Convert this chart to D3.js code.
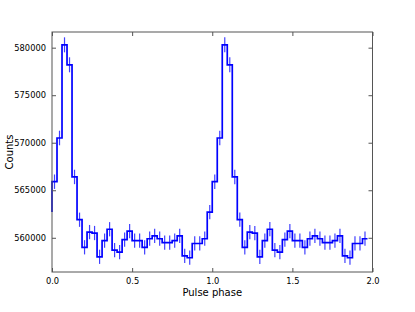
<!DOCTYPE html>
<html><head><meta charset="utf-8">
<script src="https://cdn.jsdelivr.net/npm/d3@7/dist/d3.min.js"></script>
<style>
html,body{margin:0;padding:0;background:#fff;}
svg{display:block;font-family:"DejaVu Sans",sans-serif;}
</style></head>
<body><svg id="chart" width="415" height="312"></svg>
<script>
// One pulse cycle, 32 phase bins (repeated for phase 1-2)
const binCount = 32;
const counts = [565900, 570500, 580300, 578200, 566400, 561900, 559000, 560600,
                560500, 558000, 559700, 560900, 558700, 558500, 559800, 560700,
                559700, 559700, 559000, 559900, 560200, 559900, 559500, 559500,
                559700, 560200, 558100, 557900, 559400, 559400, 559900, 562700];
const errors = [760, 770, 790, 790, 760, 750, 750, 750,
                750, 750, 750, 750, 750, 750, 750, 750,
                750, 750, 750, 750, 750, 750, 750, 750,
                750, 750, 750, 750, 750, 750, 750, 760];
const xTicks = [0, 0.5, 1.0, 1.5, 2.0];
const yTicks = [560000, 565000, 570000, 575000, 580000];
const xLabel = "Pulse phase";
const yLabel = "Counts";

const svg = d3.select("#chart");
const L = 52, R = 372.5, T = 32, B = 272;
const x = d3.scaleLinear().domain([0, 2]).range([L, R]);
const y = d3.scaleLinear().domain([556400, 581650]).range([B, T]);

// two cycles
const nShown = 2 * binCount - 1;
const bins = d3.range(nShown).map(i => ({
  left: i / binCount, right: (i + 1) / binCount,
  c: counts[i % binCount], e: errors[i % binCount]
}));

// step line: start at phase 0 with the previous-cycle value
const pts = [[0, counts[binCount - 1]]].concat(bins.map(b => [b.right, b.c]));
const line = d3.line().x(d => x(d[0])).y(d => y(d[1])).curve(d3.curveStepBefore);

const g = svg.append("g");
g.append("path").datum(pts).attr("d", line)
  .attr("fill", "none").attr("stroke", "#0000ff").attr("stroke-width", 1.7)
  .attr("stroke-linejoin", "miter");

// error bars
g.selectAll("line.err").data(bins).join("line").attr("class", "err")
  .attr("x1", d => x((d.left + d.right) / 2)).attr("x2", d => x((d.left + d.right) / 2))
  .attr("y1", d => y(d.c - d.e)).attr("y2", d => y(d.c + d.e))
  .attr("stroke", "#0000ff").attr("stroke-opacity", 0.75).attr("stroke-width", 1.2);

// frame
svg.append("rect").attr("x", L).attr("y", T).attr("width", R - L).attr("height", B - T)
  .attr("fill", "none").attr("stroke", "#555").attr("stroke-width", 1);

// axes with inward ticks
const axB = svg.append("g").attr("transform", `translate(0,${B})`)
  .call(d3.axisBottom(x).tickValues(xTicks).tickFormat(d3.format(".1f")).tickSizeInner(-4).tickSizeOuter(0).tickPadding(6));
const axT = svg.append("g").attr("transform", `translate(0,${T})`)
  .call(d3.axisTop(x).tickValues(xTicks).tickFormat("").tickSizeInner(-4).tickSizeOuter(0));
const axL = svg.append("g").attr("transform", `translate(${L},0)`)
  .call(d3.axisLeft(y).tickValues(yTicks).tickFormat(d3.format("d")).tickSizeInner(-4).tickSizeOuter(0).tickPadding(6));
const axR = svg.append("g").attr("transform", `translate(${R},0)`)
  .call(d3.axisRight(y).tickValues(yTicks).tickFormat("").tickSizeInner(-4).tickSizeOuter(0));
[axB, axT, axL, axR].forEach(a => {
  a.select(".domain").remove();
  a.selectAll(".tick line").attr("stroke", "#555");
  a.selectAll("text").attr("fill", "#000").style("font-size", "8.3px").style("font-family", "DejaVu Sans");
});

svg.append("text").attr("x", (L + R) / 2).attr("y", 296).attr("text-anchor", "middle")
  .style("font-size", "10px").text(xLabel);
svg.append("text").attr("transform", `translate(13,${(T + B) / 2}) rotate(-90)`)
  .attr("text-anchor", "middle").style("font-size", "10px").text(yLabel);
</script></body></html>
